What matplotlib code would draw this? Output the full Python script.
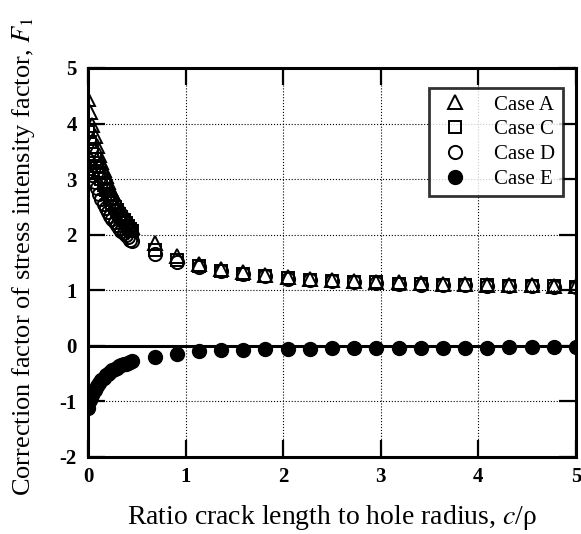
import matplotlib
matplotlib.use("Agg")
import matplotlib.pyplot as plt

plt.rcParams['font.family'] = ['Liberation Serif', 'DejaVu Serif']
plt.rcParams['mathtext.fontset'] = 'stix'
plt.rcParams['axes.unicode_minus'] = False

# c/rho values: dense near the hole, then coarse
x_vals = [0.0, 0.023, 0.045, 0.068, 0.091, 0.114, 0.136, 0.159, 0.182, 0.205,
          0.227, 0.25, 0.273, 0.295, 0.318, 0.341, 0.364, 0.386, 0.409, 0.432,
          0.455, 0.682, 0.909, 1.136, 1.364, 1.591, 1.818, 2.045, 2.273, 2.5,
          2.727, 2.955, 3.182, 3.409, 3.636, 3.864, 4.091, 4.318, 4.545, 4.773, 5.0]

case_a = [4.45, 4.2, 3.98, 3.78, 3.6, 3.44, 3.3, 3.17, 3.05, 2.94,
          2.84, 2.75, 2.66, 2.58, 2.51, 2.44, 2.37, 2.31, 2.25, 2.19,
          2.14, 1.85, 1.62, 1.48, 1.39, 1.33, 1.28, 1.24, 1.21, 1.19,
          1.17, 1.15, 1.14, 1.13, 1.12, 1.11, 1.10, 1.09, 1.09, 1.08, 1.08]
case_c = [3.85, 3.66, 3.5, 3.36, 3.23, 3.11, 3.0, 2.9, 2.81, 2.73,
          2.65, 2.57, 2.5, 2.44, 2.38, 2.32, 2.26, 2.21, 2.16, 2.11,
          2.06, 1.72, 1.54, 1.43, 1.35, 1.3, 1.26, 1.22, 1.19, 1.17,
          1.15, 1.14, 1.12, 1.11, 1.1, 1.09, 1.09, 1.08, 1.07, 1.07, 1.06]
case_d = [3.35, 3.2, 3.07, 2.95, 2.84, 2.74, 2.65, 2.56, 2.48, 2.41,
          2.34, 2.28, 2.22, 2.17, 2.12, 2.07, 2.03, 1.99, 1.95, 1.91,
          1.88, 1.65, 1.5, 1.41, 1.34, 1.29, 1.25, 1.21, 1.18, 1.16,
          1.14, 1.13, 1.12, 1.1, 1.09, 1.09, 1.08, 1.07, 1.07, 1.06, 1.06]
case_e = [-1.12, -0.98, -0.88, -0.8, -0.73, -0.67, -0.62, -0.57, -0.53, -0.5,
          -0.47, -0.44, -0.41, -0.39, -0.37, -0.35, -0.33, -0.32, -0.3, -0.29,
          -0.28, -0.2, -0.14, -0.1, -0.08, -0.07, -0.06, -0.05, -0.05, -0.04,
          -0.04, -0.04, -0.03, -0.03, -0.03, -0.03, -0.03, -0.02, -0.02, -0.02, -0.02]

x_ticks = [0, 1, 2, 3, 4, 5]
y_ticks = [-2, -1, 0, 1, 2, 3, 4, 5]

fig = plt.figure(figsize=(5.81, 5.34), dpi=100)
ax = fig.add_axes([0.1515, 0.1442, 0.8399, 0.7285])

ax.grid(True, color='black', linestyle=':', linewidth=0.8)
ax.axhline(0, color='black', linewidth=2.2, zorder=1)

ax.plot(x_vals, case_a, '^', ms=10, mfc='none', mec='black', mew=1.4, label='Case A')
ax.plot(x_vals, case_c, 's', ms=9, mfc='none', mec='black', mew=1.4, label='Case C')
ax.plot(x_vals, case_d, 'o', ms=9.5, mfc='none', mec='black', mew=1.4, label='Case D')
ax.plot(x_vals, case_e, 'o', ms=10, mfc='black', mec='black', label='Case E')

ax.set_xlim(0, 5)
ax.set_ylim(-2, 5)
ax.set_xticks(x_ticks)
ax.set_yticks(y_ticks)
ax.tick_params(direction='in', length=12, width=1.6, top=True, right=True,
               labelsize=15)
ax.tick_params(axis='y', pad=8)
ax.tick_params(axis='x', pad=7)
for lab in ax.get_xticklabels() + ax.get_yticklabels():
    lab.set_fontweight('bold')
for sp in ax.spines.values():
    sp.set_linewidth(2.2)

ax.set_xlabel(r'Ratio crack length to hole radius, $c$/ρ', fontsize=20)
ax.set_ylabel(r'Correction factor of stress intensity factor, $F_1$', fontsize=19)
ax.xaxis.set_label_coords(0.5, -0.118)
ax.yaxis.set_label_coords(-0.105, 0.514)

leg = ax.legend(loc='upper right', fontsize=15, frameon=True, fancybox=False,
                edgecolor='black', handletextpad=1.0, borderpad=0.35,
                labelspacing=0.25, handlelength=1.8, borderaxespad=0,
                bbox_to_anchor=(0.973, 0.949))
leg.get_frame().set_linewidth(2.0)

fig.savefig('out.png', dpi=100)
